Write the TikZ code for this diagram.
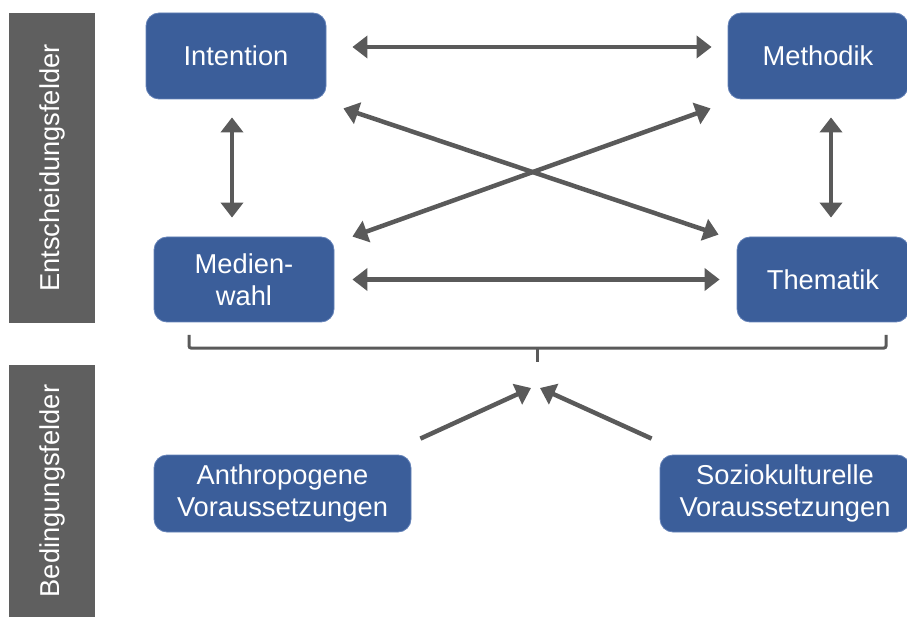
\documentclass[tikz,border=0pt]{standalone}
\usepackage{fontspec}
\setmainfont{Liberation Sans}
\usetikzlibrary{arrows.meta}
\definecolor{boxblue}{HTML}{3B5E9A}
\definecolor{boxedge}{HTML}{6482B8}
\definecolor{bargray}{HTML}{5F5F5F}
\definecolor{arrgray}{HTML}{5A5A5A}
\begin{document}
\begin{tikzpicture}[x=1pt,y=-1pt,
  box/.style={rectangle, rounded corners=13pt, fill=boxblue, draw=boxedge, line width=0.8pt,
    text=white, font=\fontsize{27.3}{32.5}\selectfont, align=center, inner sep=0pt},
  sidebar/.style={rectangle, fill=bargray, text=white, font=\fontsize{27.3}{32}\selectfont,
    inner sep=0pt, rotate=90},
  arr/.style={draw=arrgray, line width=4.5pt,
    {Triangle[length=15pt,width=22pt]}-{Triangle[length=15pt,width=22pt]}},
  onearr/.style={draw=arrgray, line width=4.5pt, -{Triangle[length=15pt,width=22pt]}},
  bracestyle/.style={draw=arrgray, line width=3pt, rounded corners=2pt}]
\useasboundingbox (0,0) rectangle (907,617);

% side bars
\node[sidebar, minimum width=310pt, minimum height=86pt] (entsch) at (52,168) {Entscheidungsfelder};
\node[sidebar, minimum width=252pt, minimum height=86pt] (beding) at (52,491) {Bedingungsfelder};

% boxes
\node[box, minimum width=180pt, minimum height=86pt] (intention) at (236,56) {Intention};
\node[box, minimum width=180pt, minimum height=86pt] (methodik) at (818,56) {Methodik};
\node[box, minimum width=180pt, minimum height=85pt] (medien) at (244,279.5) {Medien-\\wahl};
\node[box, minimum width=172pt, minimum height=85pt] (thematik) at (823,279.5) {Thematik};
\node[box, minimum width=257pt, minimum height=77pt] (anthro) at (282.5,493.5) {Anthropogene\\Voraussetzungen};
\node[box, minimum width=250pt, minimum height=77pt] (sozio) at (785,493.5) {Soziokulturelle\\Voraussetzungen};

% connectors
\draw[arr] ([xshift=26pt,yshift=9pt]intention.east) -- ([xshift=-16pt,yshift=9pt]methodik.west);
\draw[arr] ([xshift=18pt]medien.east) -- ([xshift=-17pt]thematik.west);
\draw[arr] ([xshift=-4pt,yshift=-18pt]intention.south) -- ([xshift=-12pt,yshift=19pt]medien.north);
\draw[arr] ([xshift=13pt,yshift=-18pt]methodik.south) -- ([xshift=8pt,yshift=19pt]thematik.north);
\draw[arr] ([xshift=17pt,yshift=-9pt]intention.south east) -- ([xshift=-18pt,yshift=2pt]thematik.north west);
\draw[arr] ([xshift=18pt]medien.north east) -- ([xshift=-17pt,yshift=-9pt]methodik.south west);

% brace
\coordinate (target) at (537,362);
\draw[bracestyle] (189,335) -- (189,348) -- (886,348) -- (886,335);
\draw[bracestyle] (537,348) -- (target);

% lower arrows
\draw[onearr] ([xshift=9pt,yshift=16pt]anthro.north east) -- ([xshift=-6pt,yshift=-26pt]target);
\draw[onearr] ([xshift=-8pt,yshift=16pt]sozio.north west) -- ([xshift=3pt,yshift=-26pt]target);
\end{tikzpicture}
\end{document}
